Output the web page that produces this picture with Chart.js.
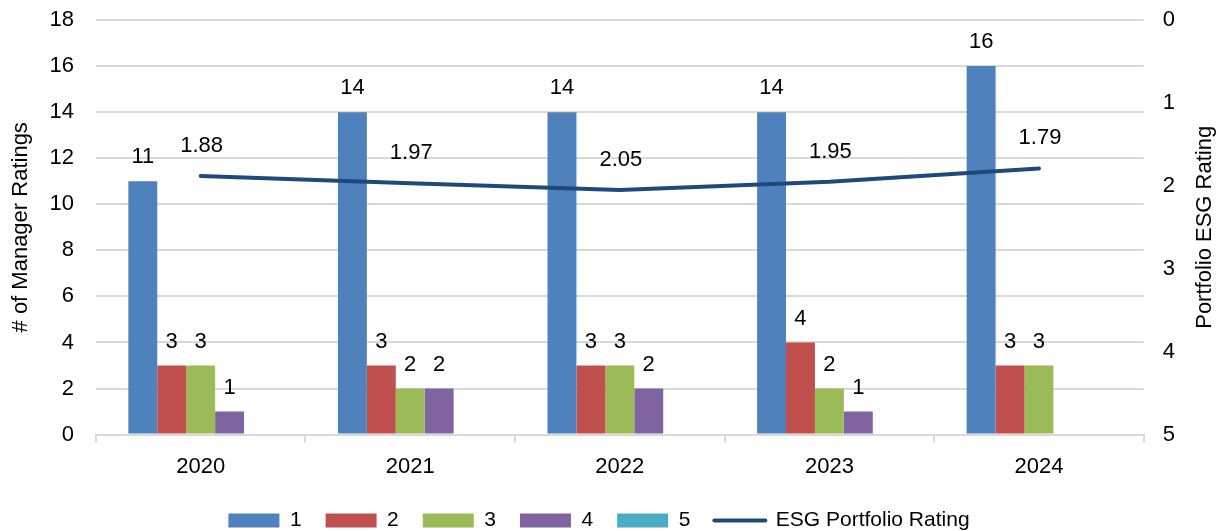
<!DOCTYPE html>
<html>
<head>
<meta charset="utf-8">
<script src="https://cdn.jsdelivr.net/npm/chart.js@4/dist/chart.umd.min.js"></script>
<style>
  html, body { margin: 0; padding: 0; background: #fff; }
  #wrap { width: 1218px; height: 531px; }
</style>
</head>
<body>
<div id="wrap"><canvas id="chart" width="1218" height="531"></canvas></div>
<script>
// số liệu
const years = ["2020", "2021", "2022", "2023", "2024"];
const rating1 = [11, 14, 14, 14, 16];
const rating2 = [3, 3, 3, 4, 3];
const rating3 = [3, 2, 3, 2, 3];
const rating4 = [1, 2, 2, 1, 0];
const rating5 = [0, 0, 0, 0, 0];
const esgRating = [1.88, 1.97, 2.05, 1.95, 1.79];

const leftTicks = [0, 2, 4, 6, 8, 10, 12, 14, 16, 18];
const rightTicks = [0, 1, 2, 3, 4, 5];

const colors = ["#4F81BD", "#C0504D", "#9BBB59", "#8064A2", "#4BACC6"];
const lineColor = "#1F497D";
const FONT = "'Liberation Sans', Arial, sans-serif";
const rightTitle = "Portfolio ESG Rating";

Chart.defaults.font.family = FONT;
Chart.defaults.font.size = 22;
Chart.defaults.color = "#000";

// ghi số lên đầu cột và trên đường
const nhanGiaTri = {
  id: "nhanGiaTri",
  afterDatasetsDraw(chart) {
    const ctx = chart.ctx;
    ctx.save();
    ctx.font = "22px " + FONT;
    ctx.fillStyle = "#000";
    ctx.textAlign = "center";
    ctx.textBaseline = "middle";
    chart.data.datasets.forEach((ds, i) => {
      const meta = chart.getDatasetMeta(i);
      meta.data.forEach((el, j) => {
        const v = ds.data[j];
        if (!v) return;
        if (ds.type === "line") {
          ctx.fillText(v.toFixed(2), el.x + 1, el.y - 30);
        } else {
          ctx.fillText(String(v), el.x, el.y - 24);
        }
      });
    });
    ctx.restore();
  },
};

// tiêu đề trục phải, đọc từ dưới lên
const tieuDePhai = {
  id: "tieuDePhai",
  afterDraw(chart) {
    const ctx = chart.ctx;
    const area = chart.chartArea;
    ctx.save();
    ctx.font = "22px " + FONT;
    ctx.fillStyle = "#000";
    ctx.textAlign = "center";
    ctx.textBaseline = "middle";
    ctx.translate(chart.width - 13, (area.top + area.bottom) / 2);
    ctx.rotate(-Math.PI / 2);
    ctx.fillText(rightTitle, 0, 0);
    ctx.restore();
  },
};

// bỏ khoảng đệm trên mặc định của trục dọc
function giamDemTren(scale) {
  scale.paddingTop = 20;
}

const barSets = [rating1, rating2, rating3, rating4, rating5].map((d, i) => ({
  type: "bar",
  label: String(i + 1),
  data: d,
  backgroundColor: colors[i],
  borderWidth: 0,
  yAxisID: "y",
  categoryPercentage: 0.69,
  barPercentage: 1.0,
  order: 2,
}));

const lineSet = {
  type: "line",
  label: "ESG Portfolio Rating",
  data: esgRating,
  borderColor: lineColor,
  backgroundColor: lineColor,
  borderWidth: 4,
  borderCapStyle: "round",
  pointRadius: 0,
  tension: 0,
  yAxisID: "y1",
  order: 1,
};

new Chart(document.getElementById("chart"), {
  data: { labels: years, datasets: [...barSets, lineSet] },
  options: {
    responsive: false,
    animation: false,
    layout: { padding: { top: 0, left: 4, right: 24, bottom: -10 } },
    plugins: {
      tooltip: { enabled: false },
      legend: {
        position: "bottom",
        labels: {
          usePointStyle: true,
          pointStyleWidth: 51,
          boxHeight: 14,
          padding: 24,
          font: { size: 21 },
          sort: (a, b) => a.datasetIndex - b.datasetIndex,
          generateLabels(chart) {
            const items = Chart.defaults.plugins.legend.labels.generateLabels(chart);
            items.forEach((it) => {
              const ds = chart.data.datasets[it.datasetIndex];
              if (ds.type === "line") {
                it.pointStyle = "line";
                it.lineWidth = 4;
                it.strokeStyle = lineColor;
                it.lineCap = "round";
              } else {
                it.pointStyle = "rect";
                it.lineWidth = 0;
                it.strokeStyle = ds.backgroundColor;
              }
            });
            return items;
          },
        },
      },
    },
    scales: {
      x: {
        grid: {
          offset: true,
          drawOnChartArea: false,
          color: "#D9D9D9",
          tickColor: "#D9D9D9",
          tickLength: 8,
          lineWidth: 2,
        },
        border: { color: "#D9D9D9", width: 2 },
        ticks: { padding: 11, font: { size: 22 } },
        afterFit(scale) {
          scale.height -= 5;
        },
      },
      y: {
        position: "left",
        min: 0,
        max: 18,
        afterBuildTicks(axis) {
          axis.ticks = leftTicks.map((v) => ({ value: v }));
        },
        afterFit: giamDemTren,
        grid: { color: "#D9D9D9", lineWidth: 2, drawTicks: false },
        border: { display: false },
        ticks: { padding: 22, font: { size: 22 } },
        title: {
          display: true,
          text: "# of Manager Ratings",
          font: { size: 22 },
          padding: { top: 4, bottom: -7 },
        },
      },
      y1: {
        position: "right",
        reverse: true,
        min: 0,
        max: 5,
        afterBuildTicks(axis) {
          axis.ticks = rightTicks.map((v) => ({ value: v }));
        },
        afterFit: giamDemTren,
        grid: { drawOnChartArea: false, drawTicks: false },
        border: { display: false },
        ticks: { padding: 19, font: { size: 22 } },
      },
    },
  },
  plugins: [nhanGiaTri, tieuDePhai],
});
</script>
</body>
</html>
